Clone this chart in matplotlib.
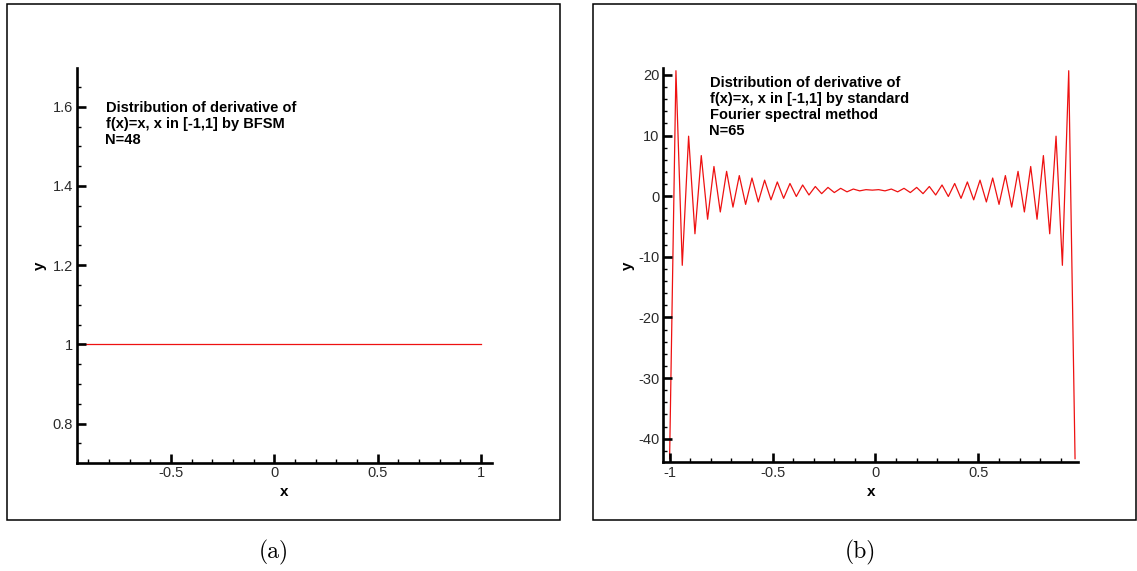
import matplotlib
matplotlib.use('Agg')
import matplotlib.pyplot as plt
from matplotlib.ticker import MultipleLocator, FixedLocator, FixedFormatter
from matplotlib.patches import Rectangle

plt.rcParams['font.family'] = ['Liberation Sans', 'DejaVu Sans']
plt.rcParams['axes.unicode_minus'] = False

W, H = 1137, 571

# ---------------- data ----------------
# panel (a): BFSM derivative of f(x)=x, N=48
a_x = [-1.0, 1.0]
a_y = [1.0, 1.0]
a_xticks = [-0.5, 0.0, 0.5, 1.0]
a_xticklabels = ['-0.5', '0', '0.5', '1']
a_yticks = [0.8, 1.0, 1.2, 1.4, 1.6]
a_yticklabels = ['0.8', '1', '1.2', '1.4', '1.6']
a_text = ['Distribution of derivative of', 'f(x)=x, x in [-1,1] by BFSM', 'N=48']

# panel (b): standard Fourier spectral derivative, N=65
b_x = [-1.0, -0.9692, -0.9385, -0.9077, -0.8769, -0.8462, -0.8154, -0.7846,
       -0.7538, -0.7231, -0.6923, -0.6615, -0.6308, -0.6, -0.5692, -0.5385,
       -0.5077, -0.4769, -0.4462, -0.4154, -0.3846, -0.3538, -0.3231, -0.2923,
       -0.2615, -0.2308, -0.2, -0.1692, -0.1385, -0.1077, -0.0769, -0.0462,
       -0.0154, 0.0154, 0.0462, 0.0769, 0.1077, 0.1385, 0.1692, 0.2,
       0.2308, 0.2615, 0.2923, 0.3231, 0.3538, 0.3846, 0.4154, 0.4462,
       0.4769, 0.5077, 0.5385, 0.5692, 0.6, 0.6308, 0.6615, 0.6923,
       0.7231, 0.7538, 0.7846, 0.8154, 0.8462, 0.8769, 0.9077, 0.9385, 0.9692]
b_y = [-43.3, 20.7, -11.4, 9.9, -6.2, 6.7, -3.8, 4.9,
       -2.6, 4.1, -1.8, 3.4, -1.35, 3.0, -0.95, 2.65,
       -0.6, 2.35, -0.35, 2.1, -0.05, 1.85, 0.2, 1.6,
       0.42, 1.45, 0.6, 1.3, 0.72, 1.18, 0.88, 1.08,
       1.0, 1.08, 0.88, 1.18, 0.72, 1.3, 0.6, 1.45,
       0.42, 1.6, 0.2, 1.85, -0.05, 2.1, -0.35, 2.35,
       -0.6, 2.65, -0.95, 3.0, -1.35, 3.4, -1.8, 4.1,
       -2.6, 4.9, -3.8, 6.7, -6.2, 9.9, -11.4, 20.7, -43.3]
b_xticks = [-1.0, -0.5, 0.0, 0.5]
b_xticklabels = ['-1', '-0.5', '0', '0.5']
b_yticks = [-40, -30, -20, -10, 0, 10, 20]
b_yticklabels = ['-40', '-30', '-20', '-10', '0', '10', '20']
b_text = ['Distribution of derivative of', 'f(x)=x, x in [-1,1] by standard',
          'Fourier spectral method', 'N=65']

captions = ['(a)', '(b)']

# ---------------- figure ----------------
fig = plt.figure(figsize=(W / 100, H / 100), dpi=100)
fig.patch.set_facecolor('white')


def fx(x):
    return x / W


def fy(y):
    return 1 - y / H


def add_axes(l, r, t, b):
    return fig.add_axes([fx(l), fy(b), (r - l) / W, (b - t) / H])


def style(ax, xticks, xlabels, yticks, ylabels, xminor, yminor):
    for s in ['top', 'right']:
        ax.spines[s].set_visible(False)
    for s in ['left', 'bottom']:
        ax.spines[s].set_linewidth(1.9)
        ax.spines[s].set_color('black')
    ax.xaxis.set_major_locator(FixedLocator(xticks))
    ax.xaxis.set_major_formatter(FixedFormatter(xlabels))
    ax.yaxis.set_major_locator(FixedLocator(yticks))
    ax.yaxis.set_major_formatter(FixedFormatter(ylabels))
    ax.xaxis.set_minor_locator(MultipleLocator(xminor))
    ax.yaxis.set_minor_locator(MultipleLocator(yminor))
    ax.tick_params(which='major', direction='in', length=6.5, width=1.9,
                   color='black', labelsize=10.5, labelcolor='#2a2a2a')
    ax.tick_params(which='minor', direction='in', length=3.2, width=1.0,
                   color='black')
    ax.tick_params(axis='x', which='major', pad=2.6)
    ax.tick_params(axis='y', which='major', pad=3.0)
    ax.tick_params(top=False, right=False, which='both')
    ax.set_axisbelow(False)
    ax.set_facecolor('none')


# panel (a)
ax1 = add_axes(77.3, 491.7, 68.3, 462.5)
ax1.plot(a_x, a_y, color='#ee1111', lw=0.9)
ax1.set_xlim(-0.954, 1.052)
ax1.set_ylim(0.702, 1.697)
style(ax1, a_xticks, a_xticklabels, a_yticks, a_yticklabels, 0.1, 0.05)

# panel (b)
ax2 = add_axes(663.3, 1078.3, 68.3, 462.3)
ax2.plot(b_x, b_y, color='#ee1111', lw=0.9)
ax2.set_xlim(-1.0306, 0.985)
ax2.set_ylim(-43.9, 21.1)
style(ax2, b_xticks, b_xticklabels, b_yticks, b_yticklabels, 0.1, 2)

# annotations
for i, line in enumerate(a_text):
    fig.text(fx(105.5), fy(111.7 + 16.1 * i), line, fontsize=10.5,
             fontweight='bold', ha='left', va='baseline', color='black')
for i, line in enumerate(b_text):
    fig.text(fx(709.5), fy(87.4 + 16.0 * i), line, fontsize=10.5,
             fontweight='bold', ha='left', va='baseline', color='black')

# axis labels
fig.text(fx(284.5), fy(491.5), 'x', fontsize=11, fontweight='bold',
         ha='center', va='center')
fig.text(fx(870.8), fy(491.5), 'x', fontsize=11, fontweight='bold',
         ha='center', va='center')
fig.text(fx(39.5), fy(265.5), 'y', fontsize=11, fontweight='bold',
         ha='center', va='center', rotation=90)
fig.text(fx(627.5), fy(265.5), 'y', fontsize=11, fontweight='bold',
         ha='center', va='center', rotation=90)

# frames
for (l, r) in [(6.5, 560.3), (592.8, 1135.6)]:
    t, b = 4.4, 520.0
    fig.add_artist(Rectangle((fx(l), fy(b)), (r - l) / W, (b - t) / H,
                             transform=fig.transFigure, fill=False,
                             edgecolor='black', linewidth=1.1))

# captions
fig.text(fx(274), fy(552), captions[0], fontsize=17, family='cmr10',
         ha='center', va='center')
fig.text(fx(860), fy(552), captions[1], fontsize=17, family='cmr10',
         ha='center', va='center')

fig.savefig('out.png', dpi=100, facecolor='white')
